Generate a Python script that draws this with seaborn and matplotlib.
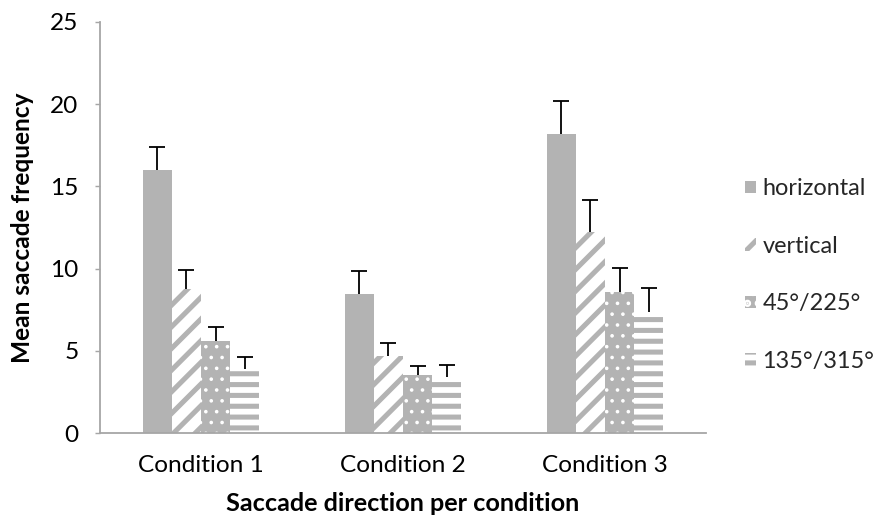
import numpy as np
import pandas as pd
import matplotlib
matplotlib.use('Agg')
import matplotlib.pyplot as plt
import seaborn as sns
from matplotlib.patches import Patch

# ---- data ----
conditions = ['Condition 1', 'Condition 2', 'Condition 3']
directions = ['horizontal', 'vertical', '45°/225°', '135°/315°']

horizontal = [16.0, 8.45, 18.2]
vertical = [8.75, 4.7, 12.2]
diag_45 = [5.6, 3.55, 8.6]
diag_135 = [3.9, 3.4, 7.35]

err_horizontal = [1.4, 1.4, 2.0]
err_vertical = [1.15, 0.75, 2.0]
err_45 = [0.85, 0.5, 1.45]
err_135 = [0.7, 0.75, 1.45]

means = [horizontal, vertical, diag_45, diag_135]
errs = [err_horizontal, err_vertical, err_45, err_135]

df = pd.DataFrame({
    'Condition': conditions * len(directions),
    'Direction': [d for d in directions for _ in conditions],
    'Mean': sum(means, []),
})

# ---- style ----
sns.set_theme(style='white')
plt.rcParams['font.family'] = ['Lato', 'DejaVu Sans']
plt.rcParams['hatch.linewidth'] = 2.8

GREY = '#b3b3b3'
AXIS = '#a6a6a6'

DPI = 130
fig = plt.figure(figsize=(889 / DPI, 524 / DPI), dpi=DPI)
ax = fig.add_axes([100 / 889, 1 - 433 / 524, 606 / 889, (433 - 22) / 524])

sns.barplot(data=df, x='Condition', y='Mean', hue='Direction',
            order=conditions, hue_order=directions,
            errorbar=None, width=0.575, ax=ax, legend=False)

# fill styles: (face, hatch colour, hatch)
styles = [
    (GREY, GREY, None),
    ('white', GREY, '//'),
    (GREY, 'white', '..'),
    ('white', GREY, '--'),
]

for container, (fc, hc, hatch), err in zip(ax.containers, styles, errs):
    xs, tops = [], []
    for bar in container:
        bar.set_facecolor(fc)
        bar.set_edgecolor(hc)
        bar.set_linewidth(0)
        if hatch:
            bar.set_hatch(hatch)
            if hatch == '..' and hasattr(bar, 'set_hatch_linewidth'):
                bar.set_hatch_linewidth(0.8)
        xs.append(bar.get_x() + bar.get_width() / 2)
        tops.append(bar.get_height())
    xs = np.array(xs)
    tops = np.array(tops)
    ends = tops + np.array(err)
    # Excel style: only the plus side, cap on top only
    ax.vlines(xs, tops, ends, color='black', linewidth=1.0, zorder=3)
    ax.plot(xs, ends, linestyle='none', marker='_', markersize=8.5,
            markeredgewidth=1.0, color='black', zorder=3)

ax.set_ylim(0, 25)
ax.set_yticks(range(0, 26, 5))
ax.set_xlim(-0.5, 2.5)

for side in ['top', 'right']:
    ax.spines[side].set_visible(False)
for side in ['left', 'bottom']:
    ax.spines[side].set_color(AXIS)
    ax.spines[side].set_linewidth(1.0)

ax.tick_params(axis='y', left=True, length=3, width=0.8, color=AXIS,
               labelsize=13.5, labelcolor='black', pad=9)
ax.tick_params(axis='x', bottom=False, labelsize=13.5, labelcolor='black', pad=6)

ax.set_xlabel('Saccade direction per condition', fontsize=14,
              fontweight='bold', color='black', labelpad=9)
ax.set_ylabel('Mean saccade frequency', fontsize=13.5,
              fontweight='bold', color='black', labelpad=9)

handles = []
for (fc, hc, hatch), name in zip(styles, directions):
    h = Patch(facecolor=fc, edgecolor=hc, linewidth=0, hatch=hatch, label=name)
    handles.append(h)

fig.legend(handles=handles, loc='center left',
           bbox_to_anchor=(745 / 889, 1 - 275 / 524),
           frameon=False, fontsize=13, labelspacing=1.55,
           handlelength=0.45, handleheight=0.45, handletextpad=0.3,
           borderpad=0, borderaxespad=0)

fig.savefig('out.png', dpi=DPI, facecolor='white')
